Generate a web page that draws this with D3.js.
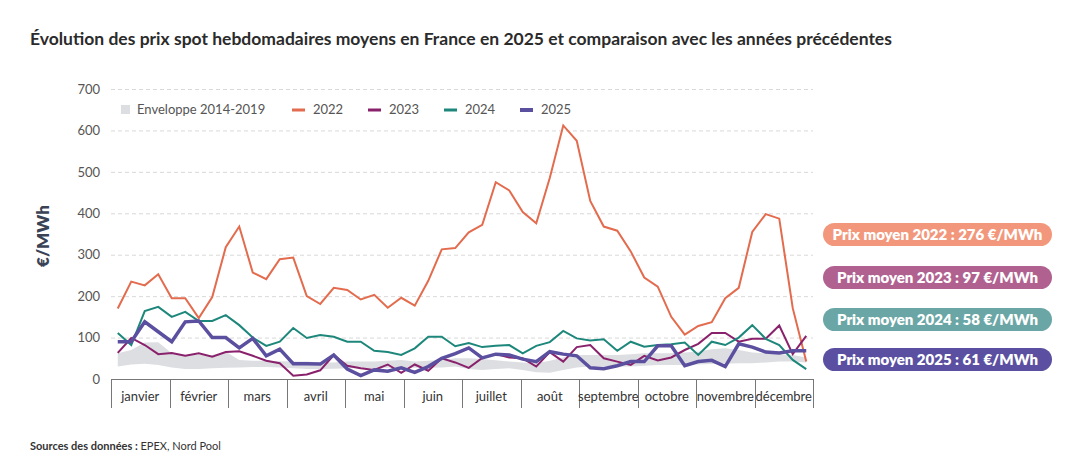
<!DOCTYPE html>
<html>
<head>
<meta charset="utf-8">
<script src="https://cdn.jsdelivr.net/npm/d3@7"></script>
<style>
  body { margin: 0; background: #fff; font-family: Lato, "Open Sans", sans-serif; }
  svg text { font-family: Lato, "Open Sans", sans-serif; }
</style>
</head>
<body>
<svg id="chart" width="1090" height="467"></svg>
<script>
// data
var months = ["janvier", "février", "mars", "avril", "mai", "juin", "juillet", "août", "septembre", "octobre", "novembre", "décembre"];
var yTicks = [0, 100, 200, 300, 400, 500, 600, 700];

var env_low = [30,35,37,34,28,24,24,26,27,28,29,29,28,26,24,24,25,26,26,26,27,28,27,27,28,30,
               24,22,24,26,22,16,15,22,28,30,30,30,30,32,34,34,34,35,36,37,38,38,40,42,42,40];
var env_high = [62,70,88,89,62,58,58,58,66,46,44,44,43,42,42,40,40,42,42,42,44,46,42,44,46,50,
                50,48,45,42,40,38,44,52,58,58,58,58,60,62,62,62,64,66,72,74,70,64,62,60,58,52];

var p2022 = [170,235,226,253,195,195,147,198,318,368,257,241,289,293,200,181,220,215,192,203,172,196,177,237,313,316,
             354,372,475,455,403,376,485,612,575,430,368,358,308,245,223,150,107,128,137,195,220,355,398,387,171,42];
var p2023 = [63,99,82,60,63,56,62,54,65,67,56,44,38,8,11,21,58,32,26,22,35,15,35,20,50,40,
             27,51,60,52,50,30,65,42,77,82,50,42,34,56,45,52,70,85,111,111,90,97,97,129,60,104];
var p2024 = [111,82,164,174,150,162,140,140,154,130,100,80,90,123,99,106,102,90,90,68,65,58,74,102,102,79,
             87,77,80,82,62,80,89,116,98,93,96,68,90,78,82,84,88,58,90,82,100,130,97,82,46,24];
var p2025 = [90,90,138,114,90,138,140,100,100,75,98,56,72,37,37,36,58,24,8,22,19,27,16,30,50,61,
             75,51,60,58,48,42,66,60,56,27,25,32,42,42,80,80,32,42,45,30,85,77,65,63,68,68];

var seriesNames = ["2022", "2023", "2024", "2025"];
var seriesColors = ["#e36b4e", "#8a216c", "#1e877b", "#5b4f9f"];
var seriesWidths = [2, 2, 2, 3.5];
var avgValues = [276, 97, 58, 61];
var pillColors = ["#f2977b", "#b06190", "#6aa6a5", "#5a4fa0"];

var series = [p2022, p2023, p2024, p2025];

// layout
var LEFT = 111, RIGHT = 813, TOP = 89, BOTTOM = 379;
var svg = d3.select("#chart");

var x = d3.scaleLinear().domain([0.5, 52.5]).range([LEFT, RIGHT]);
var xm = d3.scaleBand().domain(months).range([LEFT, RIGHT]);
var y = d3.scaleLinear().domain([0, 700]).range([BOTTOM, TOP]);

// title
svg.append("text")
  .attr("x", 30).attr("y", 45)
  .attr("font-size", 17.5).attr("font-weight", 700).attr("fill", "#2b2b2b")
  .text("Évolution des prix spot hebdomadaires moyens en France en 2025 et comparaison avec les années précédentes");

// y axis (gridlines + labels)
var yAxis = d3.axisLeft(y).tickValues(yTicks).tickSize(-(RIGHT - LEFT)).tickPadding(11);
var gy = svg.append("g").attr("transform", "translate(" + LEFT + ",0)").call(yAxis);
gy.select(".domain").remove();
gy.selectAll(".tick line")
  .attr("stroke", function(d){ return d === 0 ? "none" : "#d9d9d9"; })
  .attr("stroke-dasharray", "4,3");
gy.selectAll(".tick text").attr("font-size", 13).attr("fill", "#555");

svg.append("text")
  .attr("transform", "translate(49,236) rotate(-90)")
  .attr("text-anchor", "middle")
  .attr("font-size", 17).attr("font-weight", 800).attr("fill", "#3a4356")
  .text("€/MWh");

// envelope
var weeks = d3.range(1, 53);
var area = d3.area()
  .x(function(d){ return x(d); })
  .y0(function(d){ return y(env_low[d - 1]); })
  .y1(function(d){ return y(env_high[d - 1]); });
svg.append("path").datum(weeks).attr("d", area).attr("fill", "#dcdee2");

// lines
var line = d3.line()
  .x(function(d, i){ return x(i + 1); })
  .y(function(d){ return y(d); });
series.forEach(function(s, k){
  svg.append("path").datum(s)
    .attr("d", line)
    .attr("fill", "none")
    .attr("stroke", seriesColors[k])
    .attr("stroke-width", seriesWidths[k])
    .attr("stroke-linejoin", "miter");
});

// x axis: month boxes
var gx = svg.append("g");
gx.append("line")
  .attr("x1", LEFT).attr("x2", RIGHT).attr("y1", BOTTOM + 0.5).attr("y2", BOTTOM + 0.5)
  .attr("stroke", "#777").attr("stroke-width", 1);
var bounds = months.map(function(m){ return xm(m); }).concat([RIGHT]);
gx.selectAll("line.sep").data(bounds).enter().append("line")
  .attr("class", "sep")
  .attr("x1", function(d){ return Math.round(d) + 0.5; })
  .attr("x2", function(d){ return Math.round(d) + 0.5; })
  .attr("y1", BOTTOM).attr("y2", 408)
  .attr("stroke", "#777").attr("stroke-width", 1);
gx.selectAll("text").data(months).enter().append("text")
  .attr("x", function(d){ return xm(d) + xm.bandwidth() / 2; })
  .attr("y", 401)
  .attr("text-anchor", "middle")
  .attr("font-size", 13).attr("fill", "#333")
  .text(function(d){ return d; });

// legend
var lg = svg.append("g");
lg.append("rect").attr("x", 121).attr("y", 105).attr("width", 9).attr("height", 9).attr("fill", "#dcdee2");
lg.append("text").attr("x", 137).attr("y", 114).attr("font-size", 13).attr("fill", "#555").text("Enveloppe 2014-2019");
var legX = [292, 368, 444, 520];
seriesNames.forEach(function(n, k){
  lg.append("line")
    .attr("x1", legX[k]).attr("x2", legX[k] + 13)
    .attr("y1", 110).attr("y2", 110)
    .attr("stroke", seriesColors[k]).attr("stroke-width", k === 3 ? 4 : 3);
  lg.append("text").attr("x", legX[k] + 21).attr("y", 114)
    .attr("font-size", 13).attr("fill", "#555").text(n);
});

// average pills
var pillY = [223, 266, 308, 348];
seriesNames.forEach(function(n, k){
  var g = svg.append("g").attr("transform", "translate(823," + pillY[k] + ")");
  g.append("rect").attr("width", 229).attr("height", 23).attr("rx", 11.5).attr("fill", pillColors[k]);
  g.append("text").attr("x", 114.5).attr("y", 16.5)
    .attr("text-anchor", "middle")
    .attr("font-size", 15).attr("font-weight", 800).attr("fill", "#fff")
    .text("Prix moyen " + n + " : " + avgValues[k] + " €/MWh");
});

// footer
var ft = svg.append("text").attr("x", 30).attr("y", 450).attr("font-size", 11).attr("fill", "#333");
ft.append("tspan").attr("font-weight", 700).text("Sources des données : ");
ft.append("tspan").text("EPEX, Nord Pool");
</script>
</body>
</html>
